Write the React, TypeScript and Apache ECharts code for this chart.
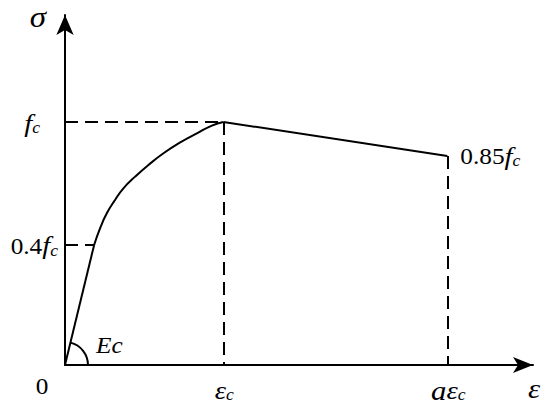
import React, { useEffect, useRef } from "react";
import * as echarts from "echarts";

// Schematic stress–strain curve (x in units of εc, y in units of fc)
const elasticSegment: number[][] = [
  [0, 0],
  [0.184, 0.494],
];
const ascendingCurve: number[][] = [
  [0.184, 0.494],
  [0.222, 0.563],
  [0.264, 0.624],
  [0.316, 0.679],
  [0.369, 0.727],
  [0.443, 0.775],
  [0.527, 0.823],
  [0.622, 0.871],
  [0.728, 0.916],
  [0.833, 0.953],
  [0.928, 0.985],
  [1, 1],
];
const descendingSegment: number[][] = [
  [1, 1],
  [2.415, 0.86],
];
const yTickValues = [0.494, 1];
const yTickLabels = ["{n|0.4}{f|f}{c|c}", "{f|f}{c|c}"];
const xTickValues = [1, 2.415];
const xTickLabels = ["{e|ε}{c|c}", "{a|a}{e|ε}{c|c}"];
const X_MAX = 2.956;
const Y_MAX = 1.44;

const FONT = "Liberation Serif, Times New Roman, serif";
const SX = 1.1;

export default function App() {
  const ref = useRef<HTMLDivElement>(null);
  useEffect(() => {
    if (!ref.current) return;
    const chart = echarts.init(ref.current, undefined, { renderer: "svg" });
    const black = "#000";
    const lineW = 2;
    const dash = { color: black, width: 2, type: [13, 7] as any };
    const rich: any = {
      n: { fontFamily: FONT, fontSize: 23, color: black },
      f: { fontFamily: FONT, fontSize: 26, fontStyle: "italic", color: black },
      a: { fontFamily: FONT, fontSize: 28, fontStyle: "italic", color: black },
      e: { fontFamily: FONT, fontSize: 26, fontStyle: "italic", color: black },
      c: { fontFamily: FONT, fontSize: 16, fontStyle: "italic", color: black, padding: [10, 0, 0, 0] },
    };
    chart.setOption({
      animation: false,
      textStyle: { fontFamily: FONT },
      grid: { left: 65, right: 17, top: 15, bottom: 47 },
      xAxis: {
        type: "value",
        min: 0,
        max: X_MAX,
        axisLine: {
          show: true,
          symbol: ["none", "arrow"],
          symbolSize: [12, 20],
          lineStyle: { color: black, width: lineW },
        },
        axisTick: { show: false },
        splitLine: { show: false },
        axisLabel: { show: false },
      },
      yAxis: {
        type: "value",
        min: 0,
        max: Y_MAX,
        axisLine: {
          show: true,
          symbol: ["none", "arrow"],
          symbolSize: [13, 20],
          lineStyle: { color: black, width: lineW },
        },
        axisTick: { show: false },
        splitLine: { show: false },
        axisLabel: { show: false },
      },
      series: [
        {
          type: "line",
          data: elasticSegment,
          symbol: "none",
          lineStyle: { color: black, width: lineW },
        },
        {
          type: "line",
          data: ascendingCurve,
          symbol: "none",
          smooth: 0.5,
          lineStyle: { color: black, width: lineW },
        },
        {
          type: "line",
          data: descendingSegment,
          symbol: "none",
          lineStyle: { color: black, width: lineW },
          markLine: {
            silent: true,
            symbol: "none",
            label: { show: false },
            lineStyle: dash,
            data: [
              [{ coord: [0, ascendingCurve[ascendingCurve.length - 1][1]] }, { coord: ascendingCurve[ascendingCurve.length - 1] }],
              [{ coord: ascendingCurve[ascendingCurve.length - 1] }, { coord: [ascendingCurve[ascendingCurve.length - 1][0], 0] }],
              [{ coord: [0, elasticSegment[1][1]] }, { coord: elasticSegment[1] }],
              [{ coord: descendingSegment[1] }, { coord: [descendingSegment[1][0], 0] }],
            ],
          },
        },
      ],
    });

    const px = (p: number[]) => chart.convertToPixel({ gridIndex: 0 }, p) as number[];
    const o = px([0, 0]);
    const k = px(elasticSegment[1]);
    const end = px(descendingSegment[1]);
    const top = px([0, Y_MAX]);
    const right = px([X_MAX, 0]);
    const ang = Math.atan2(k[1] - o[1], k[0] - o[0]);

    const txt = (x: number, y: number, text: string, align: string, extra: any = {}) => ({
      type: "text",
      x,
      y,
      scaleX: SX,
      style: { text, rich, fontFamily: FONT, fill: black, align, verticalAlign: "middle", ...extra },
    });

    const yOffsets = [7, 25];
    const yLabelEls = yTickValues.map((v, i) => {
      const p = px([0, v]);
      return txt(p[0] - yOffsets[i], p[1] + 1, yTickLabels[i], "right");
    });
    const xLabelEls = xTickValues.map((v, i) => {
      const p = px([v, 0]);
      return txt(p[0] + 1, p[1] + 25, xTickLabels[i], "center");
    });

    chart.setOption({
      graphic: [
        {
          type: "arc",
          shape: { cx: o[0], cy: o[1], r: 23, startAngle: ang, endAngle: 0, clockwise: true },
          style: { stroke: black, lineWidth: 2, fill: "none" },
        },
        ...yLabelEls,
        ...xLabelEls,
        txt(top[0] - 27, top[1] + 2, "σ", "center", { fontSize: 30, fontStyle: "italic" }),
        txt(right[0] + 1, right[1] + 23, "ε", "center", { fontSize: 28, fontStyle: "italic" }),
        txt(o[0] - 23, o[1] + 21, "0", "center", { fontSize: 23 }),
        txt(o[0] + 31, o[1] - 20, "Ec", "left", { fontSize: 23, fontStyle: "italic" }),
        txt(end[0] + 13, end[1], "{n|0.85}{f|f}{c|c}", "left"),
      ],
    });
    return () => chart.dispose();
  }, []);
  return (
    <div
      ref={ref}
      style={{ position: "absolute", left: 0, top: 0, width: 550, height: 412, background: "#fff" }}
    />
  );
}
